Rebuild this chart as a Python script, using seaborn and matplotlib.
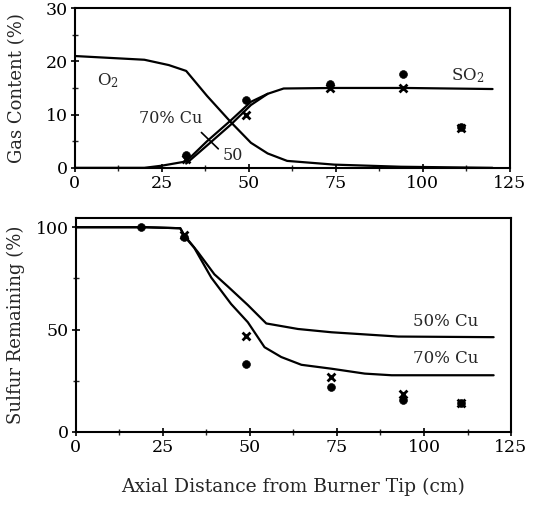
import numpy as np
import pandas as pd
import matplotlib.pyplot as plt
import seaborn as sns

# Top panel: gas content curves (%)
o2_x = [0, 20, 27, 32, 38, 44.8, 50.6, 55.4, 61, 74.5, 93.7, 120]
o2_y = [21.0, 20.3, 19.3, 18.2, 13.5, 8.6, 4.7, 2.7, 1.3, 0.6, 0.2, 0.0]
so2_70_x = [0, 20, 25, 32, 38, 44.8, 50.6, 55.4, 60, 74.5, 95, 120]
so2_70_y = [0, 0, 0.4, 1.2, 5.0, 8.9, 12.4, 13.9, 14.9, 15.0, 15.0, 14.8]
so2_50_x = [32, 38, 44.8, 50.6, 55.4]
so2_50_y = [0.8, 4.2, 8.1, 11.8, 13.9]

# measured SO2 points
gas_pt_x = [32, 49.3, 73.4, 94.2, 110.9]
gas_70_pts = [2.4, 12.8, 15.7, 17.7, 7.6]
gas_50_pts = [1.7, 9.9, 15.0, 15.0, 7.4]

# Bottom panel: sulfur remaining (%)
s50_x = [0, 20, 30, 31.2, 35, 39.8, 43.7, 49.4, 54.7, 63.8, 73.4, 92.6, 120]
s50_y = [100, 100, 99.5, 96, 88, 77, 71, 62, 53, 50.3, 48.7, 46.6, 46.3]
s70_x = [0, 20, 30, 31.2, 34, 38.9, 44.6, 49.4, 54.2, 59, 64.8, 73.4, 83, 90.7, 120]
s70_y = [100, 100, 99.5, 95.5, 90, 75.4, 62.5, 53.6, 41.4, 36.6, 32.8, 30.9, 28.5, 27.7, 27.7]

sul_70_x = [18.7, 31, 48.9, 73.4, 93.9, 110.7]
sul_70_pts = [100, 95, 33, 22, 15.5, 14]
sul_50_x = [31, 48.9, 73.2, 93.9, 110.7]
sul_50_pts = [96, 47, 27, 18.4, 14.2]

sns.set_style("ticks")
plt.rcParams['font.family'] = ['DejaVu Serif']
plt.rcParams['mathtext.fontset'] = 'dejavuserif'

fig = plt.figure(figsize=(5.34, 5.07), dpi=100)
ax1 = fig.add_axes([0.140, 0.669, 0.815, 0.315])
ax2 = fig.add_axes([0.142, 0.148, 0.815, 0.422])

lw = 1.6
sns.lineplot(x=o2_x, y=o2_y, ax=ax1, color="black", lw=lw)
sns.lineplot(x=so2_70_x, y=so2_70_y, ax=ax1, color="black", lw=lw)
sns.lineplot(x=so2_50_x, y=so2_50_y, ax=ax1, color="black", lw=lw)
sns.scatterplot(x=gas_pt_x, y=gas_70_pts, ax=ax1, color="black", marker="o", s=32, edgecolor="black", zorder=5)
sns.scatterplot(x=gas_pt_x, y=gas_50_pts, ax=ax1, color="black", marker="x", s=32, linewidth=2, zorder=5)

ax1.annotate("", xy=(41.8, 3.2), xytext=(35.8, 7.0),
             arrowprops=dict(arrowstyle="-", color="black", lw=1.2))
ax1.text(18.5, 9.2, "70% Cu", fontsize=11.5, va="center")
ax1.text(42.5, 2.3, "50", fontsize=11.5, va="center")
ax1.text(6.5, 16.4, "O$_2$", fontsize=12, va="center")
ax1.text(108, 17.4, "SO$_2$", fontsize=12, va="center")

ax1.set_xlim(0, 125)
ax1.set_ylim(0, 30)
ax1.set_xticks([0, 25, 50, 75, 100, 125])
ax1.set_xticks(np.arange(0, 126, 12.5), minor=True)
ax1.set_yticks([0, 10, 20, 30])
ax1.set_yticks([5, 15, 25], minor=True)
ax1.set_ylabel("Gas Content (%)", fontsize=13)
ax1.yaxis.set_label_coords(-0.113, 0.5)

sns.lineplot(x=s50_x, y=s50_y, ax=ax2, color="black", lw=lw)
sns.lineplot(x=s70_x, y=s70_y, ax=ax2, color="black", lw=lw)
sns.scatterplot(x=sul_70_x, y=sul_70_pts, ax=ax2, color="black", marker="o", s=32, edgecolor="black", zorder=5)
sns.scatterplot(x=sul_50_x, y=sul_50_pts, ax=ax2, color="black", marker="x", s=32, linewidth=2, zorder=5)
ax2.text(115.5, 54, "50% Cu", fontsize=12, va="center", ha="right")
ax2.text(115.5, 36, "70% Cu", fontsize=12, va="center", ha="right")

ax2.set_xlim(0, 125)
ax2.set_ylim(0, 104.5)
ax2.set_xticks([0, 25, 50, 75, 100, 125])
ax2.set_xticks(np.arange(0, 126, 12.5), minor=True)
ax2.set_yticks([0, 50, 100])
ax2.set_yticks([25, 75], minor=True)
ax2.set_ylabel("Sulfur Remaining (%)", fontsize=13)
ax2.yaxis.set_label_coords(-0.117, 0.5)
ax2.set_xlabel("Axial Distance from Burner Tip (cm)", fontsize=13.5, labelpad=16)

for ax in (ax1, ax2):
    for sp in ax.spines.values():
        sp.set_visible(True)
        sp.set_linewidth(1.5)
        sp.set_color("black")
    ax.tick_params(which="major", direction="inout", length=6, width=1.2, labelsize=12.5, colors="black", pad=2)
    ax.tick_params(which="minor", direction="inout", length=4, width=1.0)

fig.savefig("out.png", dpi=100)
